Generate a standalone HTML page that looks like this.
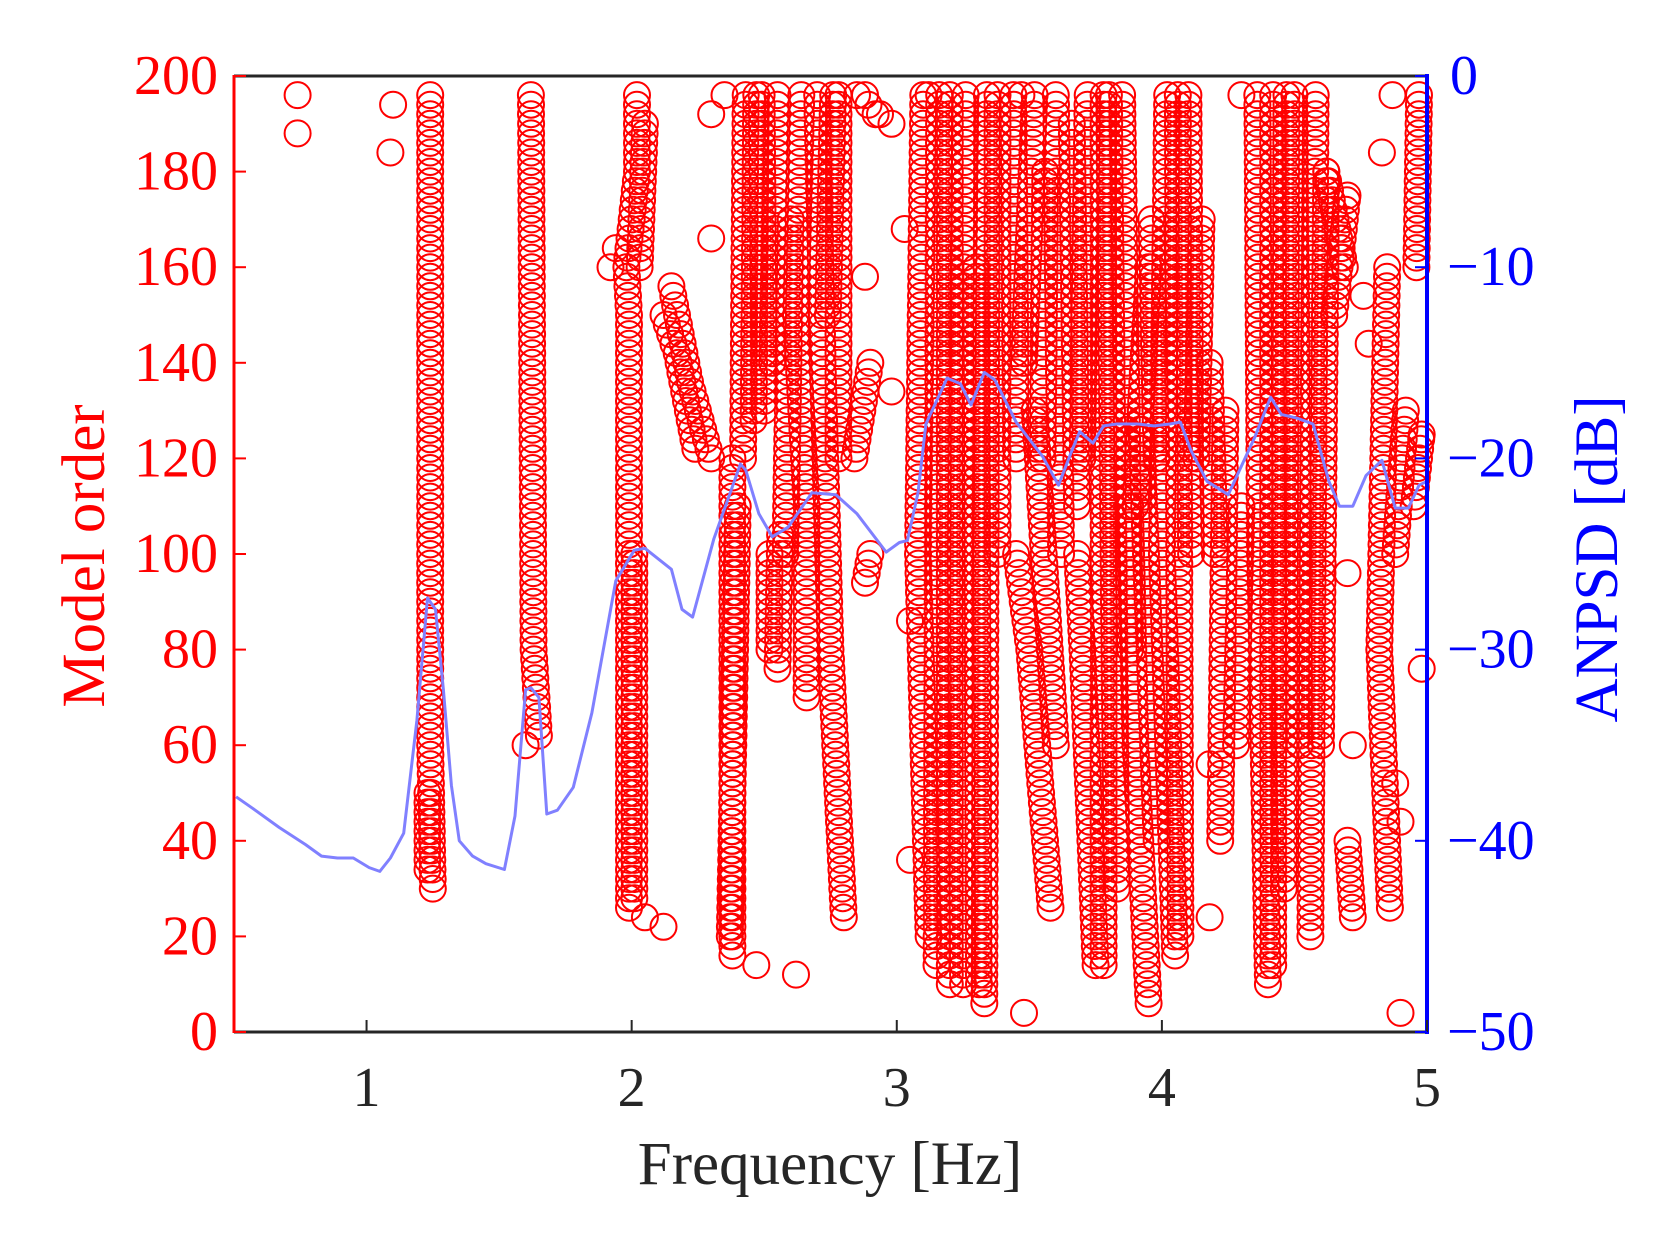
<!DOCTYPE html>
<html><head><meta charset="utf-8"><style>
html,body{margin:0;padding:0;background:#fff}
svg{display:block}
text{font-family:"Liberation Serif",serif}
</style></head><body>
<svg id="chart" width="1658" height="1237" viewBox="0 0 1658 1237" xmlns="http://www.w3.org/2000/svg">
<rect width="1658" height="1237" fill="#fff"/>
<g id="marks"></g>
<g id="axes"></g>
</svg>
<script>
// ---- data ----
const xTicks = [1, 2, 3, 4, 5];
const yTicksLeft = [0, 20, 40, 60, 80, 100, 120, 140, 160, 180, 200];
const yTicksRight = [0, -10, -20, -30, -40, -50];
const rightTickLabels = ["0", "\u221210", "\u221220", "\u221230", "\u221240", "\u221250"];
const psdFreq = [0.508,0.57,0.67,0.77,0.83,0.89,0.95,1.01,1.05,1.09,1.14,1.19,1.23,1.26,1.29,1.32,1.35,1.4,1.45,1.52,1.56,1.6,1.62,1.65,1.68,1.72,1.78,1.85,1.94,2.01,2.05,2.15,2.19,2.23,2.31,2.41,2.43,2.48,2.53,2.59,2.68,2.77,2.85,2.96,3.01,3.04,3.08,3.11,3.19,3.24,3.28,3.33,3.37,3.45,3.55,3.61,3.66,3.69,3.74,3.78,3.83,3.91,3.97,4.03,4.07,4.11,4.17,4.25,4.29,4.35,4.41,4.45,4.51,4.57,4.63,4.67,4.72,4.77,4.83,4.88,4.93,4.97,5.0];
const psdDb = [-37.7,-38.3,-39.3,-40.2,-40.8,-40.9,-40.9,-41.4,-41.6,-40.9,-39.6,-33.7,-27.3,-27.9,-32.1,-37.1,-40,-40.8,-41.2,-41.5,-38.7,-32.1,-32,-32.5,-38.6,-38.4,-37.2,-33.3,-26.4,-24.8,-24.7,-25.8,-27.9,-28.3,-24.2,-20.3,-20.6,-22.9,-24.1,-23.6,-21.8,-21.9,-22.9,-24.9,-24.4,-24.3,-21.8,-18.2,-15.8,-16.1,-17.2,-15.5,-15.9,-18.1,-19.9,-21.4,-19.6,-18.6,-19.2,-18.3,-18.2,-18.2,-18.3,-18.2,-18.1,-19.6,-21.2,-21.9,-20.7,-18.9,-16.8,-17.7,-17.9,-18.2,-21.2,-22.5,-22.5,-20.9,-20.1,-22.6,-22.6,-21.4,-21.2];
// stable-pole tracks: waypoints [frequency, model order]
const tracks = [
 [[1.25,30],[1.24,60],[1.24,196]],[[1.23,34],[1.23,50]],
 [[1.65,62],[1.63,80],[1.62,196]],
 [[1.99,26],[1.99,150],[1.98,160],[2.02,180],[2.02,196]],[[2.01,28],[2.01,100]],[[2.03,160],[2.05,190]],
 [[2.3,120],[2.22,136],[2.15,156]],[[2.24,122],[2.17,142],[2.12,150]],
 [[2.38,16],[2.38,120]],[[2.37,20],[2.4,110]],
 [[2.42,120],[2.43,196]],[[2.46,128],[2.47,196]],[[2.5,130],[2.49,196]],[[2.53,140],[2.55,196]],
 [[2.55,76],[2.56,104]],[[2.52,80],[2.52,100]],[[2.58,100],[2.6,170]],
 [[2.66,70],[2.66,110],[2.62,150],[2.64,196]],[[2.8,24],[2.75,80],[2.72,140],[2.7,196]],[[2.78,120],[2.78,196]],[[2.74,150],[2.76,196]],
 [[2.88,94],[2.9,100]],[[2.84,120],[2.9,140]],[[2.85,196],[2.98,190]],
 [[3.12,20],[3.08,100],[3.1,196]],[[3.15,14],[3.16,196]],[[3.2,10],[3.2,196]],[[3.25,10],[3.24,100],[3.26,196]],
 [[3.33,6],[3.34,196]],[[3.31,10],[3.3,160]],[[3.38,100],[3.38,196]],[[3.45,120],[3.44,196]],
 [[3.48,140],[3.52,196]],[[3.55,120],[3.56,180]],
 [[3.58,26],[3.5,80],[3.45,100]],[[3.6,60],[3.52,130]],[[3.62,100],[3.6,196]],[[3.68,110],[3.66,190]],[[3.7,120],[3.72,196]],
 [[3.75,14],[3.7,80],[3.68,100]],[[3.78,14],[3.78,196]],[[3.83,30],[3.8,196]],[[3.88,80],[3.85,196]],
 [[3.95,6],[3.9,60],[3.88,110]],[[3.98,40],[3.92,130]],[[3.9,110],[3.95,160]],[[3.98,120],[3.96,170]],
 [[4.05,16],[4.0,100],[4.02,196]],[[4.07,20],[4.06,196]],[[4.11,100],[4.1,196]],[[4.13,120],[4.15,170]],[[4.2,100],[4.18,140]],
 [[4.22,40],[4.24,130]],[[4.28,60],[4.3,110]],
 [[4.4,10],[4.37,100],[4.36,196]],[[4.42,14],[4.42,196]],[[4.46,30],[4.47,196]],[[4.52,60],[4.5,196]],
 [[4.56,20],[4.58,196]],[[4.6,60],[4.62,180]],[[4.72,24],[4.7,40]],[[4.69,160],[4.62,180]],[[4.65,150],[4.7,175]],
 [[4.86,26],[4.82,80],[4.85,160]],[[4.88,100],[4.92,130]],[[4.95,110],[4.98,125]],[[4.96,160],[4.97,196]]
];
const singleFreq = [0.74,0.74,1.1,1.09,1.6,2.05,2.12,1.92,1.94,2.3,2.47,2.62,2.88,2.98,3.05,3.05,3.48,4.18,4.18,4.3,4.7,4.72,4.88,4.9,4.9,4.98,4.78,4.76,4.83,4.87,2.3,2.35,2.88,2.92,3.03,3.12,3.47];
const singleOrder = [196,188,194,184,60,24,22,160,164,166,14,12,158,134,36,86,4,24,56,196,96,60,52,44,4,76,144,154,184,196,192,196,196,192,168,196,196];

// ---- geometry ----
const X0=234, X1=1427, Y0=76, Y1=1032;
const NS="http://www.w3.org/2000/svg";
const xs=f=>X0+(f-0.5)/4.5*(X1-X0);
const yl=o=>Y1-o/200*(Y1-Y0);
const yr=d=>Y0+(-d)/50*(Y1-Y0);
function mk(tag,attrs,parent){const e=document.createElementNS(NS,tag);for(const k in attrs)e.setAttribute(k,attrs[k]);parent.appendChild(e);return e;}
const marksG=document.getElementById('marks'), axesG=document.getElementById('axes');

function pole(f,o){
  const c=mk('circle',{cx:xs(f).toFixed(1),cy:yl(o).toFixed(1),r:13,fill:'none',stroke:'#ff0000','stroke-width':2},marksG);
  
  
}
tracks.forEach(t=>{
  for(let i=0;i<t.length-1;i++){
    const [f1,o1]=t[i],[f2,o2]=t[i+1];
    const dir=o2>=o1?2:-2;
    for(let o=o1;dir>0?o<o2:o>o2;o+=dir){pole(f1+(f2-f1)*(o-o1)/(o2-o1),o);}
  }
  const l=t[t.length-1];pole(l[0],l[1]);
});
singleFreq.forEach((f,i)=>pole(f,singleOrder[i]));

const pts=psdFreq.map((f,i)=>xs(f).toFixed(1)+','+yr(psdDb[i]).toFixed(1)).join(' ');
const psdLine=mk('polyline',{points:pts,fill:'none',stroke:'#8080ff','stroke-width':3,'stroke-linejoin':'round'},marksG);



const topAxis=mk('line',{x1:X0,y1:Y0,x2:X1,y2:Y0,stroke:'#262626','stroke-width':3},axesG);


const botAxis=mk('line',{x1:X0,y1:Y1,x2:X1,y2:Y1,stroke:'#262626','stroke-width':3},axesG);


const leftAxis=mk('line',{x1:X0,y1:Y0-1,x2:X0,y2:Y1+1,stroke:'#ff0000','stroke-width':3},axesG);


const rightAxis=mk('line',{x1:X1,y1:Y0-2,x2:X1,y2:Y1+2,stroke:'#0000ff','stroke-width':4},axesG);



xTicks.forEach(v=>{
  const x=xs(v);
  mk('line',{x1:x,y1:Y1,x2:x,y2:Y1-12,stroke:'#262626','stroke-width':2},axesG);
  const t=mk('text',{x:x,y:1106,'text-anchor':'middle','font-size':56,fill:'#262626'},axesG);
  t.textContent=v;
  
  
});
yTicksLeft.forEach(v=>{
  const y=yl(v);
  mk('line',{x1:X0,y1:y,x2:X0+12,y2:y,stroke:'#ff0000','stroke-width':2},axesG);
  const t=mk('text',{x:218,y:y+18,'text-anchor':'end','font-size':56,fill:'#ff0000'},axesG);
  t.textContent=v;
  
  
});
yTicksRight.forEach((v,i)=>{
  const y=yr(v);
  mk('line',{x1:X1,y1:y,x2:X1-12,y2:y,stroke:'#0000ff','stroke-width':2},axesG);
  const t=mk('text',{x:v===0?1450:1447,y:y+18,'text-anchor':'start','font-size':56,fill:'#0000ff'},axesG);
  t.textContent=rightTickLabels[i];
  
  
});
const xTitle=mk('text',{x:830,y:1184,'text-anchor':'middle','font-size':61,fill:'#262626'},axesG);
xTitle.textContent='Frequency [Hz]';


const yTitleL=mk('text',{x:0,y:0,'text-anchor':'middle','font-size':61,fill:'#ff0000',transform:'translate(104,556) rotate(-90)'},axesG);
yTitleL.textContent='Model order';


const yTitleR=mk('text',{x:0,y:0,'text-anchor':'middle','font-size':61,fill:'#0000ff',transform:'translate(1617,559) rotate(-90)'},axesG);
yTitleR.textContent='ANPSD [dB]';


</script>
</body></html>
